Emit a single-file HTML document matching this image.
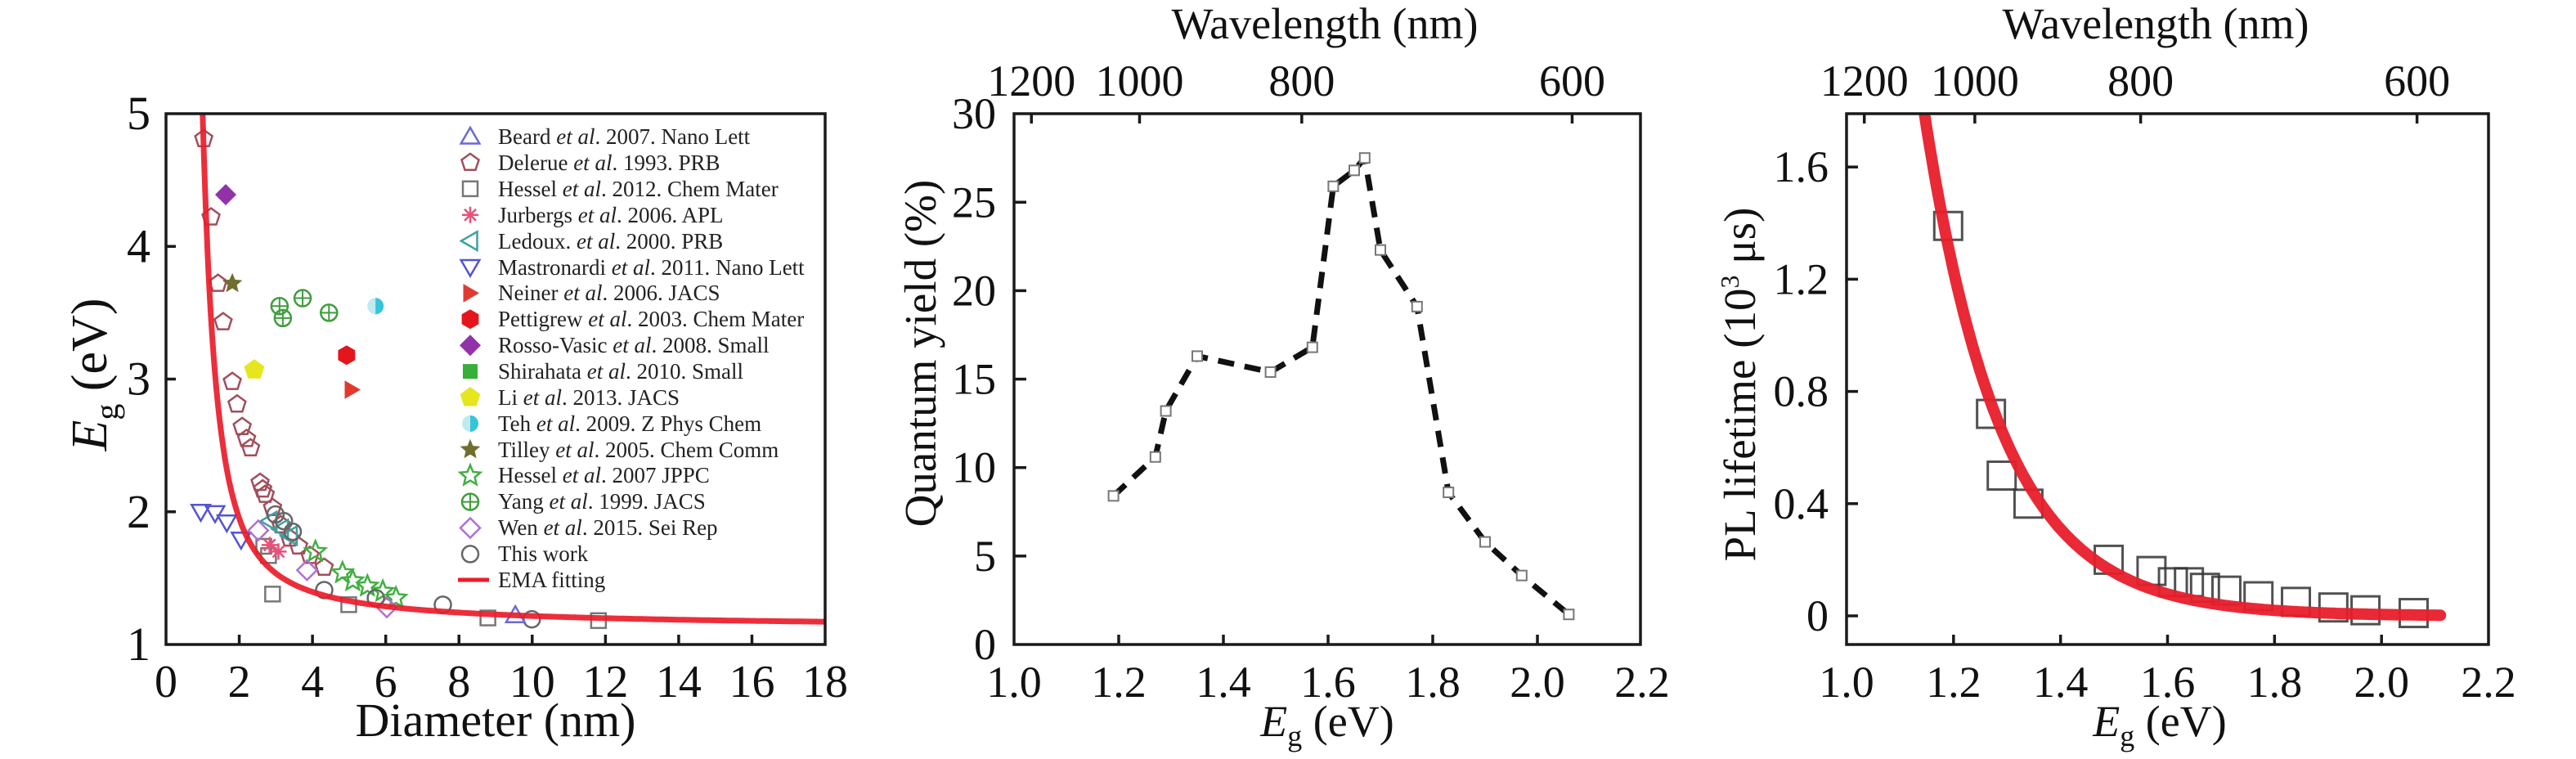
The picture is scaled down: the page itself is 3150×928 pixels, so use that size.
<!DOCTYPE html>
<html><head><meta charset="utf-8"><style>
html,body{margin:0;padding:0;background:#fff}
svg{display:block;font-family:"Liberation Serif",serif}
</style></head><body>
<svg id="fig" width="3150" height="928" viewBox="0 0 3150 928" xmlns="http://www.w3.org/2000/svg">
<defs>
<clipPath id="clipA"><rect x="203" y="139" width="806" height="649"/></clipPath>
<clipPath id="clipC"><rect x="2258" y="139" width="785" height="649"/></clipPath>
</defs>
<rect width="3150" height="928" fill="#fff"/>
<!-- Panel A -->
<g id="pa"></g>
<text x="606" y="900" font-size="58" text-anchor="middle" fill="#111">Diameter (nm)</text>
<text transform="translate(130,458) rotate(-90)" font-size="62" text-anchor="middle" fill="#111"><tspan font-style="italic">E</tspan><tspan font-size="40" dy="14">g</tspan><tspan dy="-14"> (eV)</tspan></text>
<g id="legend" font-size="27" fill="#222">
<text x="609" y="176">Beard <tspan font-style="italic">et al</tspan>. 2007. Nano Lett</text>
<text x="609" y="208">Delerue <tspan font-style="italic">et al</tspan>. 1993. PRB</text>
<text x="609" y="240">Hessel <tspan font-style="italic">et al</tspan>. 2012. Chem Mater</text>
<text x="609" y="272">Jurbergs <tspan font-style="italic">et al</tspan>. 2006. APL</text>
<text x="609" y="304">Ledoux. <tspan font-style="italic">et al</tspan>. 2000. PRB</text>
<text x="609" y="336">Mastronardi <tspan font-style="italic">et al</tspan>. 2011. Nano Lett</text>
<text x="609" y="367">Neiner <tspan font-style="italic">et al</tspan>. 2006. JACS</text>
<text x="609" y="399">Pettigrew <tspan font-style="italic">et al</tspan>. 2003. Chem Mater</text>
<text x="609" y="431">Rosso-Vasic <tspan font-style="italic">et al</tspan>. 2008. Small</text>
<text x="609" y="463">Shirahata <tspan font-style="italic">et al</tspan>. 2010. Small</text>
<text x="609" y="495">Li <tspan font-style="italic">et al</tspan>. 2013. JACS</text>
<text x="609" y="527">Teh <tspan font-style="italic">et al</tspan>. 2009. Z Phys Chem</text>
<text x="609" y="559">Tilley <tspan font-style="italic">et al</tspan>. 2005. Chem Comm</text>
<text x="609" y="590">Hessel <tspan font-style="italic">et al</tspan>. 2007 JPPC</text>
<text x="609" y="622">Yang <tspan font-style="italic">et al</tspan>. 1999. JACS</text>
<text x="609" y="654">Wen <tspan font-style="italic">et al</tspan>. 2015. Sei Rep</text>
<text x="609" y="686">This work</text>
<text x="609" y="718">EMA fitting</text>
</g>
<!-- Panel B -->
<g id="pb"></g>
<text x="1620" y="47" font-size="54" text-anchor="middle" fill="#111">Wavelength (nm)</text>
<text x="1623" y="900" font-size="54" text-anchor="middle" fill="#111"><tspan font-style="italic">E</tspan><tspan font-size="36" dy="12">g</tspan><tspan dy="-12"> (eV)</tspan></text>
<text transform="translate(1144,432) rotate(-90)" font-size="55" text-anchor="middle" fill="#111">Quantum yield (%)</text>
<!-- Panel C -->
<g id="pc"></g>
<text x="2636" y="47" font-size="54" text-anchor="middle" fill="#111">Wavelength (nm)</text>
<text x="2641" y="900" font-size="54" text-anchor="middle" fill="#111"><tspan font-style="italic">E</tspan><tspan font-size="36" dy="12">g</tspan><tspan dy="-12"> (eV)</tspan></text>
<text transform="translate(2146,470) rotate(-90)" font-size="55" text-anchor="middle" fill="#111">PL lifetime (10<tspan font-size="32" dy="-20">3</tspan><tspan dy="20"> μs)</tspan></text>
</svg>
<script>
// ---------- Panel A data ----------
const beardD=[9.54], beardE=[1.22];
const delerueD=[1.03,1.23,1.42,1.56,1.81,1.94,2.08,2.2,2.31,2.57,2.64,2.71,2.91,3.14,3.38,3.62,3.93,4.32];
const delerueE=[4.81,4.22,3.72,3.43,2.98,2.81,2.64,2.55,2.48,2.22,2.17,2.13,2.03,1.9,1.8,1.74,1.67,1.58];
const hessel12D=[2.67,2.8,2.91,4.99,8.79,11.81], hessel12E=[1.74,1.67,1.38,1.3,1.2,1.18];
const jurbergsD=[2.83,3.07], jurbergsE=[1.75,1.7];
const ledouxD=[2.83,3.14,3.38], ledouxE=[1.93,1.87,1.82];
const mastroD=[0.95,1.34,1.66,2.05], mastroE=[2.0,1.99,1.92,1.79];
const neinerD=[5.07], neinerE=[2.92];
const pettigrewD=[4.93], pettigrewE=[3.18];
const rossoD=[1.63], rossoE=[4.39];
const liD=[2.41], liE=[3.07];
const tehD=[5.72], tehE=[3.55];
const tilleyD=[1.81], tilleyE=[3.72];
const hessel07D=[4.08,4.82,5.1,5.5,5.92,6.28], hessel07E=[1.7,1.54,1.48,1.44,1.4,1.35];
const yangD=[3.1,3.19,3.73,4.45], yangE=[3.55,3.46,3.61,3.5];
const wenD=[2.52,3.85,6.03], wenE=[1.86,1.56,1.28];
const thisD=[2.99,3.22,3.46,4.32,5.73,7.56,9.99], thisE=[1.98,1.93,1.85,1.41,1.35,1.3,1.19];
const aXTicks=[0,2,4,6,8,10,12,14,16,18], aYTicks=[1,2,3,4,5];
// ---------- Panel B data ----------
const qyE=[1.19,1.27,1.29,1.35,1.49,1.57,1.61,1.65,1.67,1.70,1.77,1.83,1.90,1.97,2.06];
const qyV=[8.4,10.6,13.2,16.3,15.4,16.8,25.9,26.8,27.5,22.3,19.1,8.6,5.8,3.9,1.7];
const bXTicks=[1.0,1.2,1.4,1.6,1.8,2.0,2.2], bYTicks=[0,5,10,15,20,25,30];
const wlTicks=[1200,1000,800,600];
// ---------- Panel C data ----------
const ltE=[1.19,1.27,1.29,1.34,1.49,1.57,1.61,1.64,1.67,1.71,1.77,1.84,1.91,1.97,2.06];
const ltV=[1.39,0.72,0.50,0.40,0.20,0.16,0.12,0.12,0.10,0.09,0.07,0.05,0.03,0.02,0.01];
const cYTicks=[0,0.4,0.8,1.2,1.6];
const NS="http://www.w3.org/2000/svg";
function mk(tag,attrs,parent){const e=document.createElementNS(NS,tag);for(const k in attrs)e.setAttribute(k,attrs[k]);parent.appendChild(e);return e;}
const aX=d=>203+d*44.78, aY=e=>788-(e-1)*162.25;
const bX=e=>1240+(e-1)*640, bY=q=>788-q*21.63;
const cX=e=>2258+(e-1)*654.2, cY=t=>753-t*343;
const pa=document.getElementById('pa'), pb=document.getElementById('pb'), pc=document.getElementById('pc');
function poly(n,cx,cy,r,rot){let p=[];for(let i=0;i<n;i++){const a=rot+i*2*Math.PI/n;p.push((cx+r*Math.cos(a)).toFixed(1)+','+(cy+r*Math.sin(a)).toFixed(1));}return p.join(' ');}
function star(cx,cy,r){let p=[];for(let i=0;i<10;i++){const a=-Math.PI/2+i*Math.PI/5;const rr=i%2?r*0.45:r;p.push((cx+rr*Math.cos(a)).toFixed(1)+','+(cy+rr*Math.sin(a)).toFixed(1));}return p.join(' ');}
function marker(shape,cx,cy,g){
  const s=11;let el;
  switch(shape){
    case 'tri-up':el=mk('polygon',{points:poly(3,cx,cy+2,s+2,-Math.PI/2),fill:'none',stroke:'#6a6ad6','stroke-width':2.5},g);break;
    case 'pent':el=mk('polygon',{points:poly(5,cx,cy,s,-Math.PI/2),fill:'none',stroke:'#a24e5c','stroke-width':2.5},g);break;
    case 'sq':el=mk('rect',{x:cx-9,y:cy-9,width:18,height:18,fill:'none',stroke:'#777','stroke-width':2.5},g);break;
    case 'ast':el=mk('path',{d:`M${cx-10},${cy}H${cx+10}M${cx},${cy-10}V${cy+10}M${cx-7},${cy-7}L${cx+7},${cy+7}M${cx-7},${cy+7}L${cx+7},${cy-7}`,stroke:'#e8507a','stroke-width':2.5,fill:'none'},g);break;
    case 'tri-left':el=mk('polygon',{points:poly(3,cx+2,cy,s+2,Math.PI),fill:'none',stroke:'#3fa0a0','stroke-width':2.5},g);break;
    case 'tri-down':el=mk('polygon',{points:poly(3,cx,cy-2,s+2,Math.PI/2),fill:'none',stroke:'#5454d4','stroke-width':2.5},g);break;
    case 'tri-right':el=mk('polygon',{points:poly(3,cx-2,cy,s+2,0),fill:'#e03a30'},g);break;
    case 'hex':el=mk('polygon',{points:poly(6,cx,cy,s+1,Math.PI/2),fill:'#e4161c'},g);break;
    case 'diam':el=mk('polygon',{points:poly(4,cx,cy,s+2,0),fill:'#9232a8'},g);break;
    case 'fsq':el=mk('rect',{x:cx-9,y:cy-9,width:18,height:18,fill:'#36b036'},g);break;
    case 'fpent':el=mk('polygon',{points:poly(5,cx,cy,s+2,-Math.PI/2),fill:'#e6e61e'},g);break;
    case 'half':el=mk('g',{},g);mk('circle',{cx:cx,cy:cy,r:10,fill:'#bfeaf0'},el);mk('path',{d:`M${cx},${cy-10}A10,10 0 0 1 ${cx},${cy+10}Z`,fill:'#36c4d8'},el);break;
    case 'fstar':el=mk('polygon',{points:star(cx,cy,s+2),fill:'#6e6e2e'},g);break;
    case 'star':el=mk('polygon',{points:star(cx,cy,s+2),fill:'none',stroke:'#40b040','stroke-width':2.5},g);break;
    case 'cross':el=mk('g',{},g);mk('circle',{cx:cx,cy:cy,r:10,fill:'none',stroke:'#3e9e3e','stroke-width':2.5},el);mk('path',{d:`M${cx-10},${cy}H${cx+10}M${cx},${cy-10}V${cy+10}`,stroke:'#3e9e3e','stroke-width':2},el);break;
    case 'odiam':el=mk('polygon',{points:poly(4,cx,cy,s+1,0),fill:'none',stroke:'#b070d4','stroke-width':2.5},g);break;
    case 'circ':el=mk('circle',{cx:cx,cy:cy,r:10,fill:'none',stroke:'#666','stroke-width':2.5},g);break;
  }
  return el;
}
function axesBox(g,x0,y0,x1,y1){
  const r=mk('rect',{x:x0,y:y0,width:x1-x0,height:y1-y0,fill:'none',stroke:'#1a1a1a','stroke-width':3.5},g);
  
  
}
function txt(g,x,y,s,anchor,size,name){
  const t=mk('text',{x:x,y:y,'text-anchor':anchor,'font-size':size,fill:'#111'},g);t.textContent=s;
  
  
  return t;
}
// ===== Panel A =====
(function(){
  const g=pa;
  let d='';for(let x=0.9;x<=18.001;x+=0.02){const e=1.12+0.92/x+2.96/(x*x*x);d+=(d?'L':'M')+aX(x).toFixed(1)+','+aY(e).toFixed(1);}
  const series=[
    ['pent',delerueD,delerueE,'delerue'],['sq',hessel12D,hessel12E,'hessel-2012'],['ast',jurbergsD,jurbergsE,'jurbergs'],
    ['tri-left',ledouxD,ledouxE,'ledoux'],['tri-down',mastroD,mastroE,'mastronardi'],['tri-right',neinerD,neinerE,'neiner'],
    ['hex',pettigrewD,pettigrewE,'pettigrew'],['diam',rossoD,rossoE,'rosso-vasic'],['fpent',liD,liE,'li'],['half',tehD,tehE,'teh'],
    ['fstar',tilleyD,tilleyE,'tilley'],['star',hessel07D,hessel07E,'hessel-2007'],['cross',yangD,yangE,'yang'],
    ['odiam',wenD,wenE,'wen'],['circ',thisD,thisE,'this-work'],['tri-up',beardD,beardE,'beard']];
  series.forEach(s=>{s[1].forEach((v,i)=>{const m=marker(s[0],aX(v),aY(s[2][i]),g);
    
    });});
  const p=mk('path',{d:d,fill:'none',stroke:'#ea1c2a','stroke-width':7,'stroke-opacity':0.92,'clip-path':'url(#clipA)'},g);
  
  
  const lm=['tri-up','pent','sq','ast','tri-left','tri-down','tri-right','hex','diam','fsq','fpent','half','fstar','star','cross','odiam','circ'];
  lm.forEach((s,i)=>{const m=marker(s,575,167+i*31.9,g);
    
    });
  const ll=mk('line',{x1:560,x2:598,y1:709,y2:709,stroke:'#ea1c2a','stroke-width':5},g);
  
  
  axesBox(g,203,139,1009,788);
  aXTicks.forEach(v=>{const x=aX(v);
    if(v>0&&v<18){const t=mk('line',{x1:x,x2:x,y1:788,y2:776,stroke:'#1a1a1a','stroke-width':3.5},g);
      
      }
    txt(g,x,852,String(v),'middle',56,'x-tick-label');});
  aYTicks.forEach(v=>{const y=aY(v);
    if(v>1&&v<5){const t=mk('line',{x1:203,x2:215,y1:y,y2:y,stroke:'#1a1a1a','stroke-width':3.5},g);
      
      }
    txt(g,184,y+19,String(v),'end',58,'y-tick-label');});
})();
// ===== Panel B =====
(function(){
  const g=pb;
  let d='';qyE.forEach((e,i)=>{d+=(i?'L':'M')+bX(e).toFixed(1)+','+bY(qyV[i]).toFixed(1);});
  const p=mk('path',{d:d,fill:'none',stroke:'#111','stroke-width':7,'stroke-dasharray':'20 13','stroke-linejoin':'round'},g);
  
  
  qyE.forEach((e,i)=>{const r=mk('rect',{x:bX(e)-6,y:bY(qyV[i])-6,width:12,height:12,fill:'#fff',stroke:'#777','stroke-width':2},g);
    
    });
  axesBox(g,1240,139,2006,788);
  bXTicks.forEach(v=>{const x=bX(v);
    if(v>1.0&&v<2.2){const t=mk('line',{x1:x,x2:x,y1:788,y2:776,stroke:'#1a1a1a','stroke-width':3.5},g);
      
      }
    txt(g,x,852,v.toFixed(1),'middle',54,'x-tick-label');});
  bYTicks.forEach(v=>{const y=bY(v);
    if(v>0&&v<30){const t=mk('line',{x1:1240,x2:1255,y1:y,y2:y,stroke:'#1a1a1a','stroke-width':3.5},g);
      
      }
    txt(g,1218,y+18,String(v),'end',54,'y-tick-label');});
  wlTicks.forEach(w=>{const x=bX(1239.8/w);
    const t=mk('line',{x1:x,x2:x,y1:139,y2:151,stroke:'#1a1a1a','stroke-width':3.5},g);
    
    
    txt(g,x,117,String(w),'middle',54,'top-tick-label');});
})();
// ===== Panel C =====
(function(){
  const g=pc;
  ltE.forEach((e,i)=>{const r=mk('rect',{x:cX(e)-17,y:cY(ltV[i])-17,width:34,height:34,fill:'none',stroke:'#333','stroke-width':3,'stroke-opacity':0.85},g);
    
    });
  let d='';for(let e=1.08;e<=2.11;e+=0.005){const t=1.23*Math.exp(-(e-1.2)/0.145);d+=(d?'L':'M')+cX(e).toFixed(1)+','+cY(t).toFixed(1);}
  const p=mk('path',{d:d,fill:'none',stroke:'#e81e2a','stroke-width':14,'stroke-linecap':'round','stroke-opacity':0.95,'clip-path':'url(#clipC)'},g);
  
  
  axesBox(g,2258,139,3043,788);
  bXTicks.forEach(v=>{const x=cX(v);
    if(v>1.0&&v<2.2){const t=mk('line',{x1:x,x2:x,y1:788,y2:776,stroke:'#1a1a1a','stroke-width':3.5},g);
      
      }
    txt(g,x,852,v.toFixed(1),'middle',54,'x-tick-label');});
  cYTicks.forEach(v=>{const y=cY(v);
    const t=mk('line',{x1:2258,x2:2272,y1:y,y2:y,stroke:'#1a1a1a','stroke-width':3.5},g);
    
    
    txt(g,2236,y+18,v===0?'0':v.toFixed(1),'end',54,'y-tick-label');});
  wlTicks.forEach(w=>{const x=cX(1239.8/w);
    const t=mk('line',{x1:x,x2:x,y1:139,y2:151,stroke:'#1a1a1a','stroke-width':3.5},g);
    
    
    txt(g,x,117,String(w),'middle',54,'top-tick-label');});
})();
</script>
</body></html>
